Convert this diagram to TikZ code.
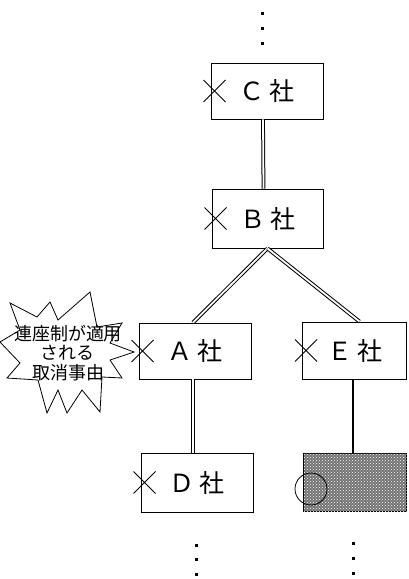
\documentclass[tikz,border=0pt]{standalone}
\usepackage{fontspec}
\newfontfamily\jp{Noto Sans CJK JP}
\usetikzlibrary{patterns,calc}
\newcommand{\boxfont}{\jp\fontsize{25}{28}\selectfont}
\newcommand{\burstfont}{\jp\fontsize{18}{19.5}\selectfont}
\tikzset{
  company/.style={draw, line width=0.9pt, rectangle, inner sep=0pt, font=\boxfont},
  dbl/.style={draw, line width=1pt, double, double distance=1.8pt},
  sgl/.style={draw, line width=1.1pt},
  crossmark/.style={draw, line width=0.9pt},
  vdot/.style={fill=black, inner sep=0pt, minimum size=3pt, rectangle},
  burstline/.style={draw, line width=0.8pt, line join=miter}
}
\newcommand{\xmark}[1]{\draw[crossmark] ([xshift=4pt]#1.west) +(-11,-11) -- +(11,11) +(-11,11) -- +(11,-11);}
\begin{document}
\begin{tikzpicture}[x=1pt,y=-1pt]
\useasboundingbox (0,0) rectangle (408,579);
% boxes
\node[company, minimum width=112pt, minimum height=56pt] (C) at (267,91) {Ｃ\hspace{5pt}社};
\node[company, minimum width=111pt, minimum height=59pt] (B) at (267.5,218.5) {Ｂ\hspace{5pt}社};
\node[company, minimum width=112pt, minimum height=56pt] (A) at (195,351) {Ａ\hspace{5pt}社};
\node[company, minimum width=104pt, minimum height=57pt] (E) at (354.5,350.5) {Ｅ\hspace{5pt}社};
\node[company, minimum width=112pt, minimum height=59pt] (D) at (197,482.5) {Ｄ\hspace{5pt}社};
\node[draw, line width=0.9pt, rectangle, inner sep=0pt, minimum width=103pt, minimum height=58pt,
      fill=black!55, postaction={pattern=crosshatch dots, pattern color=white}] (F) at (355,482) {};
\node[draw, circle, line width=0.8pt, minimum size=32pt, inner sep=0pt] (Fc) at (311,489) {};
% crosses
\xmark{C}
\xmark{B}
\xmark{A}
\xmark{E}
\xmark{D}
% connectors
\draw[dbl] ([xshift=-4pt]C.south) -- ([xshift=-4pt]B.north);
\draw[dbl] (B.south) -- ([xshift=-2pt]A.north);
\draw[dbl] (B.south) -- ([xshift=5pt]E.north);
\draw[dbl] ([xshift=-2pt]A.south) -- ([xshift=-4pt]D.north);
\draw[sgl] ([xshift=-1.5pt]E.south) -- ([xshift=-2pt]F.north);
% dots
\node[vdot] (t1) at (262,13) {};
\node[vdot] (t2) at (262,28) {};
\node[vdot] (t3) at (262,43) {};
\node[vdot] (l1) at (196,545) {};
\node[vdot] (l2) at (196,559) {};
\node[vdot] (l3) at (196,574) {};
\node[vdot] (r1) at (353,543) {};
\node[vdot] (r2) at (353,558) {};
\node[vdot] (r3) at (353,573) {};
% burst
\draw[burstline, fill=white] (10,303) -- (37,317) -- (50,302) -- (58,320) -- (90,292) -- (97,327)
  -- (122,323) -- (110,343) -- (134,352) -- (110,360) -- (122,378) -- (102,377) -- (100,412)
  -- (82,390) -- (67,413) -- (58,390) -- (47,413) -- (38,380) -- (7,378) -- (20,363)
  -- (0,342) -- (20,330) -- cycle;
\node[align=center, font=\burstfont, inner sep=0pt] (burst) at (68,353) {連座制が適用\\される\\取消事由};
\end{tikzpicture}
\end{document}
